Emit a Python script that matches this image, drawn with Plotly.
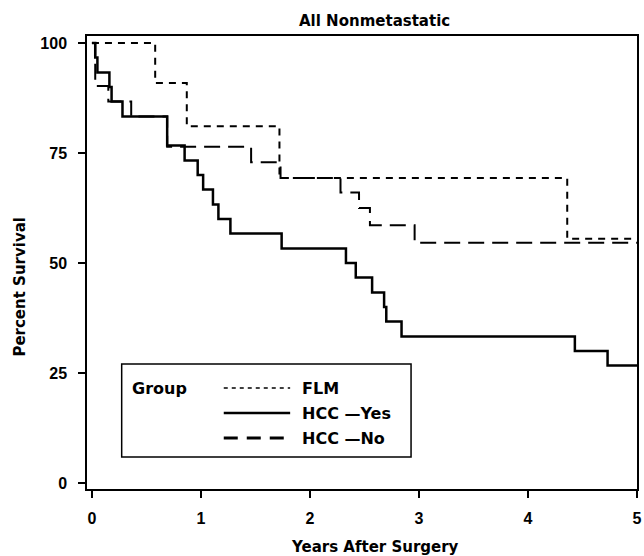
import plotly.graph_objects as go

# ---- data ----
flm_t = [0, 0.58, 0.87, 1.72, 4.36, 5.0]
flm_s = [100, 90.9, 81.1, 69.3, 55.5, 55.5]

hcc_yes_t = [0, 0.03, 0.05, 0.16, 0.18, 0.28, 0.69, 0.85, 0.97, 1.02, 1.11, 1.16,
             1.27, 1.74, 2.33, 2.42, 2.57, 2.68, 2.70, 2.84, 4.43, 4.73, 5.0]
hcc_yes_s = [100, 96.7, 93.3, 90.0, 86.7, 83.3, 76.7, 73.3, 70.0, 66.7, 63.3, 60.0,
             56.7, 53.3, 50.0, 46.7, 43.3, 40.0, 36.7, 33.3, 30.0, 26.7, 26.7]

hcc_no_t = [0, 0.03, 0.15, 0.36, 0.69, 1.46, 1.73, 2.28, 2.45, 2.55, 2.96, 5.0]
hcc_no_s = [100, 90.2, 86.7, 83.3, 76.4, 72.9, 69.3, 66.0, 62.5, 58.6, 54.6, 54.6]

x_ticks = [0, 1, 2, 3, 4, 5]
y_ticks = [0, 25, 50, 75, 100]
legend_labels = ["FLM", "HCC \u2014Yes", "HCC \u2014No"]

W, H = 644, 556
L, R, T, B = 87, 2, 36, 67
pw, ph = W - L - R, H - T - B


def px(xp):
    return (xp - L) / pw


def py(yp):
    return (H - B - yp) / ph


fig = go.Figure()
fig.add_trace(go.Scatter(x=flm_t, y=flm_s, mode="lines", line_shape="hv",
                         line=dict(color="black", width=2, dash="7px,6px"),
                         name=legend_labels[0], showlegend=False))
fig.add_trace(go.Scatter(x=hcc_yes_t, y=hcc_yes_s, mode="lines", line_shape="hv",
                         line=dict(color="black", width=2.5),
                         name=legend_labels[1], showlegend=False))
fig.add_trace(go.Scatter(x=hcc_no_t, y=hcc_no_s, mode="lines", line_shape="hv",
                         line=dict(color="black", width=2, dash="16px,8px"),
                         name=legend_labels[2], showlegend=False))

tickfont = dict(family="Liberation Sans", size=16, color="black", weight="bold")
fig.update_xaxes(range=[(L - 92) / 110, (642 - 92) / 110], tickvals=x_ticks,
                 ticks="outside", ticklen=7, tickwidth=1.5, tickcolor="black",
                 showline=True, linecolor="black", linewidth=1.5, mirror=True,
                 showgrid=False, zeroline=False, tickfont=tickfont,
                 ticklabelstandoff=7, ticklabeloverflow="allow")
fig.update_yaxes(range=[(483 - 489) / 4.4, (483 - 36) / 4.4], tickvals=y_ticks,
                 ticks="outside", ticklen=7, tickwidth=1.5, tickcolor="black",
                 showline=True, linecolor="black", linewidth=1.5, mirror=True,
                 showgrid=False, zeroline=False, tickfont=tickfont,
                 ticklabelstandoff=8, ticklabeloverflow="allow")

titlefont = dict(family="DejaVu Sans", size=15, color="black")
ann = [
    dict(text="<b>All Nonmetastatic</b>", x=px(377), y=py(21), font=dict(family="DejaVu Sans", size=15, color="black")),
    dict(text="<b>Years After Surgery</b>", x=px(378), y=py(547), font=titlefont),
    dict(text="<b>Percent Survival</b>", x=px(19), y=py(287), font=titlefont, textangle=-90),
    dict(text="<b>Group</b>", x=px(130), y=py(388), xanchor="left", font=dict(family="DejaVu Sans", size=16, color="black")),
]
rows = [388, 413, 438]
for lab, yy in zip(legend_labels, rows):
    ann.append(dict(text="<b>" + lab + "</b>", x=px(302), y=py(yy), xanchor="left",
                    font=dict(family="DejaVu Sans", size=16, color="black")))
for a in ann:
    a.setdefault("xanchor", "center")
    a.update(xref="paper", yref="paper", yanchor="middle", showarrow=False)
fig.update_layout(annotations=ann)

shapes = [dict(type="rect", xref="paper", yref="paper", x0=px(122), x1=px(414),
               y0=py(457), y1=py(364), line=dict(color="black", width=1.5))]
styles = [dict(color="black", width=1.5, dash="4px,4px"),
          dict(color="black", width=2.5),
          dict(color="black", width=3, dash="14px,9px")]
for st, yy in zip(styles, rows):
    shapes.append(dict(type="line", xref="paper", yref="paper", x0=px(225), x1=px(292),
                       y0=py(yy), y1=py(yy), line=st))
fig.update_layout(shapes=shapes)

fig.update_layout(width=W, height=H, margin=dict(l=L, r=R, t=T, b=B),
                  plot_bgcolor="white", paper_bgcolor="white", showlegend=False)
fig.write_html("out.html", config={"displayModeBar": False},
               post_script="document.body.style.margin='0';document.body.style.overflow='hidden';")
